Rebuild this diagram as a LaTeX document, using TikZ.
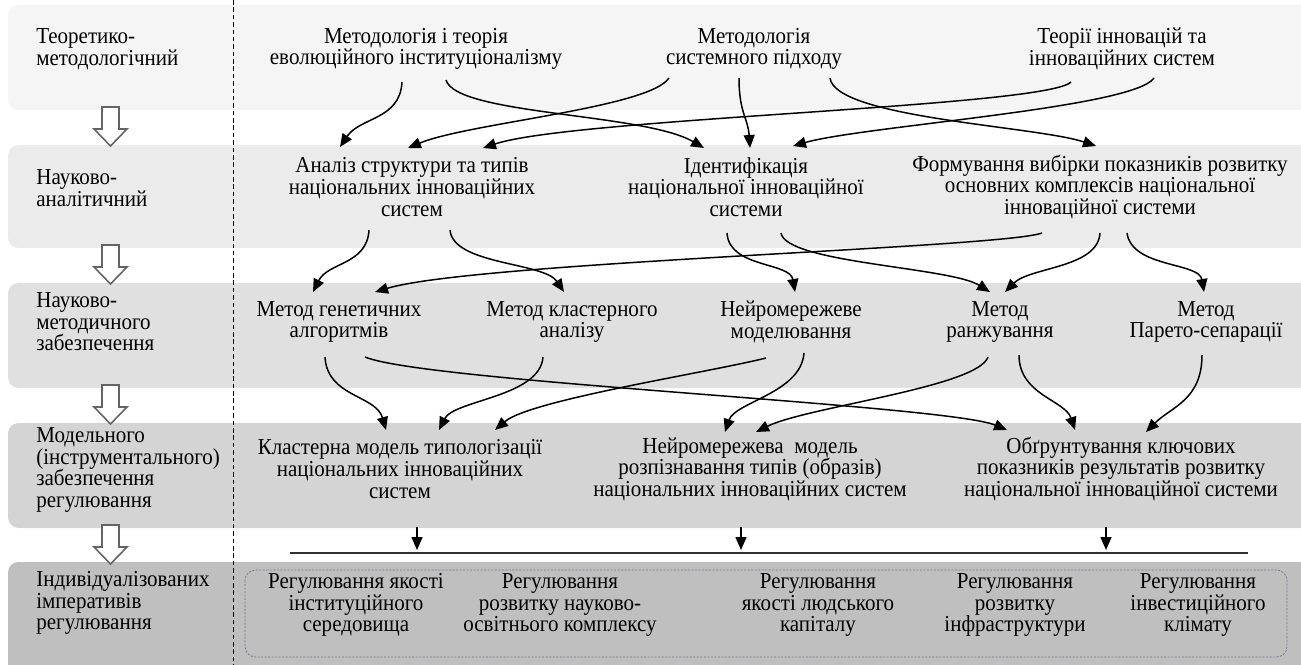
\documentclass[tikz,border=0pt]{standalone}
\usepackage{fontspec}
\setmainfont{Liberation Serif}[FakeStretch=0.92]
\usepackage{tikz}
\usetikzlibrary{arrows.meta,calc}
\definecolor{lvlone}{RGB}{245,245,245}
\definecolor{lvltwo}{RGB}{235,235,235}
\definecolor{lvlthree}{RGB}{224,224,224}
\definecolor{lvlfour}{RGB}{212,212,212}
\definecolor{lvlfive}{RGB}{191,191,191}
\definecolor{hollowgray}{RGB}{100,100,100}
\definecolor{boxedge}{RGB}{115,125,145}
\newcommand{\diagfont}{\fontsize{13}{12.3}\selectfont}

\begin{document}
\begin{tikzpicture}[x=0.02cm,y=-0.02cm,
  lvl/.style={font=\diagfont,align=left,anchor=west,inner sep=0pt},
  txt/.style={font=\diagfont,align=center,inner sep=0pt},
  flow/.style={-{Triangle[length=2.6mm,width=2.2mm]},line width=0.85pt},
  hollow/.style={draw=hollowgray,fill=white,line width=0.9pt},
  regbox/.style={draw=boxedge,dash pattern=on 1.2pt off 0.8pt,line width=0.45pt,
                 rounded corners=6pt}]

\useasboundingbox (0,0) rectangle (1301,665);
\clip (0,0) rectangle (1301,665);

% ------------- bands -------------
\fill[lvlone,rounded corners=6pt]   (8,5)   rectangle (1330,110);
\fill[lvltwo,rounded corners=6pt]   (8,145) rectangle (1330,248);
\fill[lvlthree,rounded corners=6pt] (8,283) rectangle (1330,388);
\fill[lvlfour,rounded corners=6pt]  (8,423) rectangle (1330,528);
\fill[lvlfive,rounded corners=6pt]  (8,562) rectangle (1330,700);
\draw[dash pattern=on 2.6pt off 1.6pt,line width=0.5pt] (233,0) -- (233,665);

% hollow arrows between levels
\foreach \t in {107,245,385,525}
  \draw[hollow] (102,\t) -- (119,\t) -- (119,\t+22) -- (127,\t+22)
     -- (110.5,\t+39) -- (94,\t+22) -- (102,\t+22) -- cycle;

% ------------- level names -------------
\node[lvl] (lv1) at (36,49)  {Теоретико-\\методологічний};
\node[lvl] (lv2) at (36,188) {Науково-\\аналітичний};
\node[lvl] (lv3) at (36,322) {Науково-\\методичного\\забезпечення};
\node[lvl] (lv4) at (36,470) {Модельного\\(інструментального)\\забезпечення\\регулювання};
\node[lvl] (lv5) at (36,603) {Індивідуалізованих\\імперативів\\регулювання};

% ------------- theory -------------
\node[txt] (tmA) at (416,49)  {Методологія і теорія\\еволюційного інституціоналізму};
\node[txt] (tmB) at (754,49)  {Методологія\\системного підходу};
\node[txt] (tmC) at (1122,49) {Теорії інновацій та\\інноваційних систем};

% ------------- analysis -------------
\node[txt] (anA) at (412,187)  {Аналіз структури та типів\\національних інноваційних\\систем};
\node[txt] (anB) at (746,187)  {Ідентифікація\\національної інноваційної\\системи};
\node[txt] (anC) at (1100,187) {Формування вибірки показників розвитку\\основних комплексів національної\\інноваційної системи};

% ------------- methods -------------
\node[txt] (mtA) at (339,322)  {Метод генетичних\\алгоритмів};
\node[txt] (mtB) at (572,322)  {Метод кластерного\\аналізу};
\node[txt] (mtC) at (791,322)  {Нейромережеве\\моделювання};
\node[txt] (mtD) at (1000,322) {Метод\\ранжування};
\node[txt] (mtE) at (1206,322) {Метод\\Парето-сепарації};

% ------------- models -------------
\node[txt] (mdA) at (400,469)  {Кластерна модель типологізації\\національних інноваційних\\систем};
\node[txt] (mdB) at (750,469)  {Нейромережева~~модель\\розпізнавання типів (образів)\\національних інноваційних систем};
\node[txt] (mdC) at (1121,469) {Обґрунтування ключових\\показників результатів розвитку\\національної інноваційної системи};

% ------------- imperatives -------------
\draw[regbox] (245,570) rectangle (1287,657);
\node[txt] (rgA) at (356,605)  {Регулювання якості\\інституційного\\середовища};
\node[txt] (rgB) at (560,605)  {Регулювання\\розвитку науково-\\освітнього комплексу};
\node[txt] (rgC) at (818,605)  {Регулювання\\якості людського\\капіталу};
\node[txt] (rgD) at (1015,605) {Регулювання\\розвитку\\інфраструктури};
\node[txt] (rgE) at (1198,605) {Регулювання\\інвестиційного\\клімату};

% theory -> analysis
\draw[flow] ($(tmA)+(-14,33)$) .. controls +(-2,38) and +(20,-30) .. ($(anA)+(-72,-40)$);
\draw[flow] ($(tmA)+(30,31)$)  .. controls +(10,35) and +(-60,-35) .. ($(anB)+(-42,-39)$);
\draw[flow] ($(tmB)+(-85,29)$) .. controls +(-20,30) and +(60,-25) .. ($(anA)+(-4,-39)$);
\draw[flow] ($(tmB)+(-15,29)$) .. controls +(0,35) and +(-2,-30) .. ($(anB)+(4,-39)$);
\draw[flow] ($(tmB)+(76,29)$)  .. controls +(5,40) and +(-60,-20) .. ($(anC)+(-4,-41)$);
\draw[flow] ($(tmC)+(-51,33)$) .. controls +(-25,25) and +(90,-30) .. ($(anA)+(71,-39)$);
\draw[flow] ($(tmC)+(32,29)$)  .. controls +(-20,30) and +(70,-20) .. ($(anB)+(47,-41)$);

% analysis -> methods
\draw[flow] ($(anA)+(-43,43)$) .. controls +(-2,35) and +(15,-30) .. ($(mtA)+(-26,-30)$);
\draw[flow] ($(anA)+(38,43)$)  .. controls +(3,35) and +(-20,-30) .. ($(mtB)+(-8,-30)$);
\draw[flow] ($(anC)+(-58,46)$) .. controls +(-40,15) and +(100,-30) .. ($(mtA)+(36,-30)$);
\draw[flow] ($(anB)+(-19,46)$) .. controls +(2,35) and +(-5,-30) .. ($(mtC)+(4,-30)$);
\draw[flow] ($(anB)+(35,46)$)  .. controls +(5,30) and +(-40,-25) .. ($(mtD)+(-10,-30)$);
\draw[flow] ($(anC)+(0,46)$)   .. controls +(-2,35) and +(25,-25) .. ($(mtD)+(5,-30)$);
\draw[flow] ($(anC)+(27,46)$)  .. controls +(5,35) and +(-5,-30) .. ($(mtE)+(-2,-30)$);

% methods -> models
\draw[flow] ($(mtA)+(-14,35)$) .. controls +(2,40) and +(-10,-35) .. ($(mdA)+(-14,-39)$);
\draw[flow] ($(mtA)+(26,35)$)  .. controls +(60,25) and +(-60,-25) .. ($(mdC)+(-114,-39)$);
\draw[flow] ($(mtB)+(-29,35)$) .. controls +(-3,40) and +(15,-30) .. ($(mdA)+(39,-39)$);
\draw[flow] ($(mtC)+(-25,36)$) .. controls +(-60,15) and +(35,-30) .. ($(mdA)+(95,-39)$);
\draw[flow] ($(mtC)+(13,31)$)  .. controls +(-3,40) and +(10,-30) .. ($(mdB)+(-25,-37)$);
\draw[flow] ($(mtD)+(-12,35)$) .. controls +(-10,30) and +(50,-25) .. ($(mdB)+(6,-37)$);
\draw[flow] ($(mtD)+(19,33)$)  .. controls +(0,40) and +(-10,-30) .. ($(mdC)+(-46,-39)$);
\draw[flow] ($(mtE)+(-4,33)$)  .. controls +(0,45) and +(25,-25) .. ($(mdC)+(25,-37)$);

% models -> imperatives
\coordinate (busL) at (290,553);
\coordinate (busR) at (1248,553);
\draw[line width=0.7pt,black!80] (busL) -- (busR);
\draw[flow] ($(mdA)+(17,58)$)  -- ($(mdA)+(17,81)$);
\draw[flow] ($(mdB)+(-9,58)$)  -- ($(mdB)+(-9,81)$);
\draw[flow] ($(mdC)+(-15,58)$) -- ($(mdC)+(-15,81)$);

\end{tikzpicture}
\end{document}
